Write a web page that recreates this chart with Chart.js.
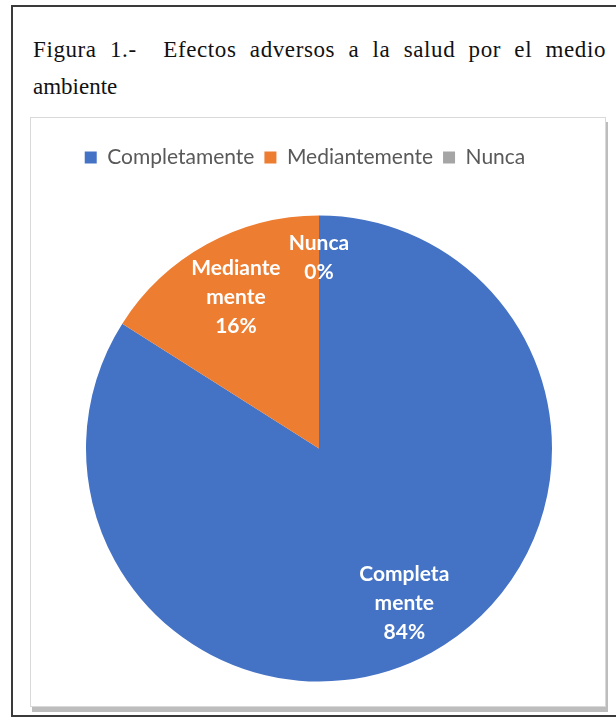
<!DOCTYPE html>
<html>
<head>
<meta charset="utf-8">
<script src="https://cdn.jsdelivr.net/npm/chart.js@4"></script>
<style>
  body { margin: 0; background: #fff; width: 616px; height: 717px; position: relative; overflow: hidden; }
  #frame { position: absolute; left: 11px; top: 5px; width: 612px; height: 708px; border: 2px solid #3a3a3a; }
  .title { position: absolute; left: 33px; width: 573px; font: 23px 'Liberation Serif', 'Times New Roman', serif; letter-spacing: 0.6px; color: #111; white-space: nowrap; }
  #t1 { top: 37px; text-align: justify; text-align-last: justify; white-space: normal; }
  #t2 { top: 74px; letter-spacing: 0; }
  #box { position: absolute; left: 30px; top: 117px; width: 574px; height: 588px; border: 1px solid #d9d9d9; background: #fff; box-shadow: 2px 5px 0 #bdbdbd; }
  #box canvas { position: absolute; left: 0; top: 0; }
</style>
</head>
<body>
<div id="frame"></div>
<div class="title" id="t1">Figura 1.-&nbsp; Efectos adversos a la salud por el medio</div>
<div class="title" id="t2">ambiente</div>
<div id="box"><canvas id="pie" width="574" height="588"></canvas></div>
<script>
// categories and values
const categories = ['Completamente', 'Mediantemente', 'Nunca'];
const values = [84, 16, 0];
const labelLines = [['Completa', 'mente'], ['Mediante', 'mente'], ['Nunca']];
const colors = ['#4472C4', '#ED7D31', '#A5A5A5'];

// draws the white in-slice labels
const sliceLabels = {
  id: 'sliceLabels',
  afterDatasetsDraw(chart, args, opts) {
    const ctx = chart.ctx;
    const meta = chart.getDatasetMeta(0);
    const total = values.reduce((a, b) => a + b, 0);
    ctx.save();
    ctx.fillStyle = '#ffffff';
    ctx.font = 'bold 21px Lato';
    ctx.textAlign = 'center';
    ctx.textBaseline = 'middle';
    meta.data.forEach((arc, i) => {
      const p = arc.getProps(['x', 'y', 'startAngle', 'endAngle', 'outerRadius'], true);
      const mid = (p.startAngle + p.endAngle) / 2;
      const r = p.outerRadius * opts.offsets[i];
      const cx = p.x + Math.cos(mid) * r;
      const cy = p.y + Math.sin(mid) * r;
      const lines = labelLines[i].concat(Math.round(values[i] / total * 100) + '%');
      const lh = opts.lineHeight;
      const y0 = cy - (lines.length - 1) * lh / 2;
      lines.forEach((t, k) => ctx.fillText(t, cx, y0 + k * lh));
    });
    ctx.restore();
  }
};

// extra space under the legend, and nudge it a little to the left
const legendGap = {
  id: 'legendGap',
  beforeInit(chart) {
    const fit = chart.legend.fit;
    chart.legend.fit = function () {
      fit.bind(chart.legend)();
      this.height += 13;
    };
  },
  afterLayout(chart) {
    chart.legend.left -= 14;
    chart.legend.right -= 14;
  }
};

new Chart(document.getElementById('pie'), {
  type: 'pie',
  data: {
    labels: categories,
    datasets: [{
      data: values,
      backgroundColor: colors,
      borderWidth: 0
    }]
  },
  options: {
    responsive: false,
    animation: false,
    layout: { padding: { left: 55, right: 53, top: 19, bottom: 0 } },
    plugins: {
      legend: {
        position: 'top',
        labels: {
          boxWidth: 12,
          boxHeight: 12,
          padding: 10,
          color: '#595959',
          font: { family: 'Lato', size: 21 }
        }
      },
      tooltip: { enabled: false },
      sliceLabels: { offsets: [0.76, 0.74, 0.82], lineHeight: 29 }
    }
  },
  plugins: [legendGap, sliceLabels]
});
</script>
</body>
</html>
